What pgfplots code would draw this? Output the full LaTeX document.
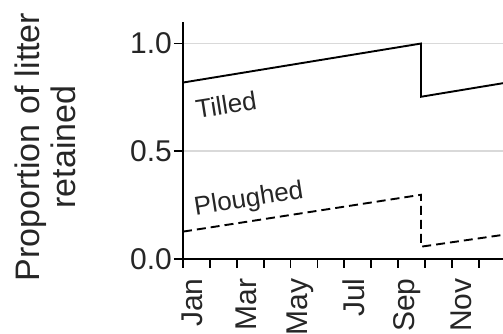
\documentclass[border=0pt]{standalone}
\usepackage{pgfplots}
\pgfplotsset{compat=1.18}
\usepackage{fontspec}
\setmainfont{Liberation Sans}
\begin{document}
\begin{tikzpicture}[x=1pt,y=1pt]
\useasboundingbox (0,0) rectangle (503,334);
\clip (0,0) rectangle (503,334);
\begin{axis}[
  at={(183pt,75pt)}, anchor=south west,
  scale only axis, width=320pt, height=237pt,
  xmin=0, xmax=11.9, ymin=0, ymax=1.1,
  axis x line=bottom, axis y line=left,
  axis line style={-, line width=1.8pt, black},
  tick align=outside,
  major tick length=9pt,
  tick style={line width=1.8pt, black},
  xtick={0,1,...,11}, xticklabels={},
  extra x ticks={0.35,2.35,4.35,6.35,8.35,10.35},
  extra x tick labels={Jan,Mar,May,Jul,Sep,Nov},
  extra x tick style={major tick length=16pt, tick style={draw=none},
    xticklabel style={rotate=90, anchor=east}},
  ytick={0,0.5,1.0},
  yticklabel style={/pgf/number format/fixed, /pgf/number format/fixed zerofill, /pgf/number format/precision=1, inner sep=2pt},
  /pgf/number format/assume math mode=true,
  ticklabel style={font=\fontsize{30}{36}\selectfont, text=black!85},
  ymajorgrids, grid style={line width=1.6pt, black!15},
  ylabel={Proportion of litter\\retained},
  ylabel style={align=center, font=\fontsize{34}{36}\selectfont, text=black!85,
    at={(axis description cs:-0.431,0.473)}, anchor=center},
  clip=false,
]
\addplot[black, line width=1.9pt] coordinates {(0,0.819) (8.85,1.0) (8.85,0.753) (11.9,0.816)};
\addplot[black, line width=1.9pt, dash pattern=on 9pt off 5pt] coordinates {(0,0.127) (8.85,0.298) (8.85,0.057) (11.9,0.112)};
\node[rotate=9, font=\fontsize{26}{30}\selectfont, text=black!85] at (axis cs:1.6,0.716) {Tilled};
\node[rotate=9, font=\fontsize{26}{30}\selectfont, text=black!85] at (axis cs:2.45,0.274) {Ploughed};
\end{axis}
\end{tikzpicture}
\end{document}
